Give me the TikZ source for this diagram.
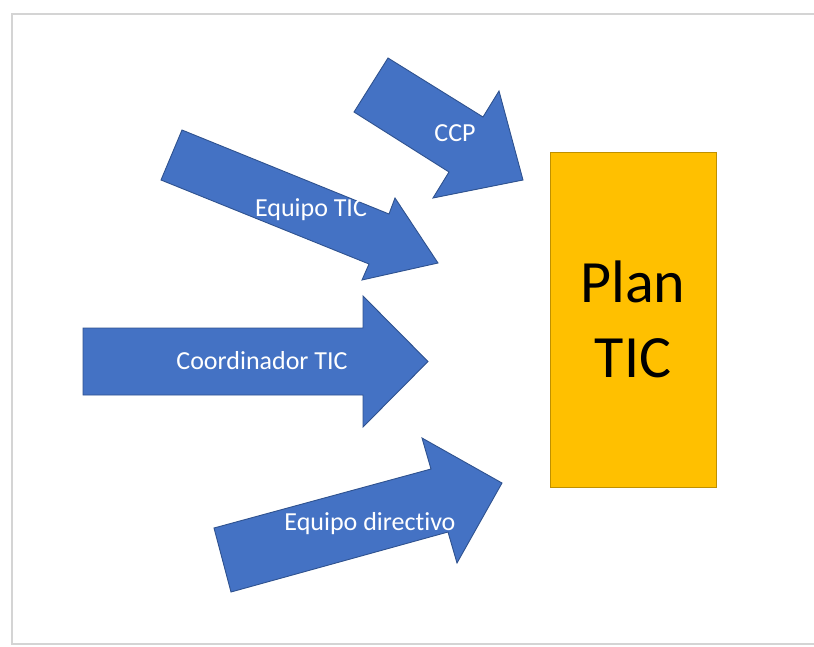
\documentclass[tikz,border=0pt]{standalone}
\usepackage{fontspec}
\setmainfont{Carlito}[RawFeature=-liga]
\definecolor{arrowblue}{HTML}{4472C4}
\definecolor{arrowedge}{HTML}{2F528F}
\definecolor{plangold}{HTML}{FFC000}
\definecolor{planedge}{HTML}{BF9000}
\definecolor{framegray}{HTML}{D4D4D4}
\begin{document}
\begin{tikzpicture}[x=1pt,y=-1pt,
  blockarrow/.style={fill=arrowblue,draw=arrowedge,line width=0.9pt,line join=miter},
  arrowlabel/.style={text=white,anchor=base,inner sep=0pt,font=\fontsize{26}{31}\selectfont}]
\useasboundingbox (0,0) rectangle (814,646);
\path[draw,framegray,line width=2.2pt] (814,14) -- (12,14) -- (12,644) -- (814,644);

\path[blockarrow] (388,58) -- (483,117) -- (499,91) -- (523,180) -- (433,198) -- (449,172) -- (354,112) -- cycle;
\path[blockarrow] (182,130) -- (389,214) -- (395,198) -- (438,263) -- (362,280) -- (369,264) -- (161,180) -- cycle;
\path[blockarrow] (83,328) -- (363,328) -- (363,296) -- (428,361.5) -- (363,427) -- (363,395) -- (83,395) -- cycle;
\path[blockarrow] (214,528) -- (431,469) -- (422,438) -- (502,483) -- (457,563) -- (448,532) -- (231,592) -- cycle;

\node[arrowlabel] (ccp) at (455,141) {CCP};
\node[arrowlabel] (equipo) at (311,216) {Equipo TIC};
\node[arrowlabel] (coord) at (262,369) {Coordinador TIC};
\node[arrowlabel] (directivo) at (370,530) {Equipo directivo};

\node[draw=planedge,fill=plangold,line width=0.9pt,minimum width=166pt,minimum height=335pt,
  inner sep=0pt,align=center,font=\fontsize{60}{75}\selectfont] (plan) at (633,319.5) {Plan\\TIC};
\end{tikzpicture}
\end{document}
